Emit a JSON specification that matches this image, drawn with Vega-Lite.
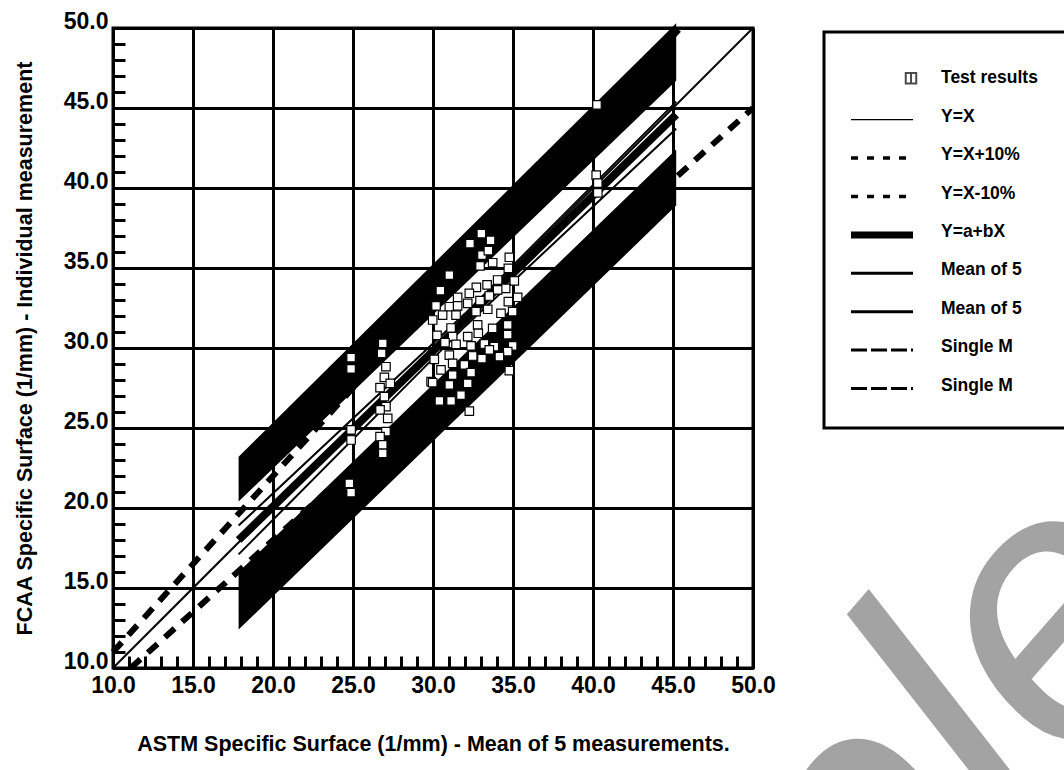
{
  "$schema": "https://vega.github.io/schema/vega-lite/v6.json",
  "background": "white",
  "autosize": {"type": "pad"},
  "padding": {"left": 12, "top": 8, "right": 0, "bottom": 0},
  "bounds": "flush",
  "spacing": 71,
  "config": {
    "view": {"stroke": null},
    "font": "Liberation Sans"
  },
  "datasets": {
    "points": [
      {"x": 24.88, "y": 29.4}, {"x": 24.88, "y": 28.7}, {"x": 24.88, "y": 24.88}, {"x": 24.88, "y": 24.25},
      {"x": 24.77, "y": 21.54}, {"x": 24.88, "y": 20.96},
      {"x": 26.86, "y": 30.29}, {"x": 26.79, "y": 29.67}, {"x": 27.06, "y": 28.83}, {"x": 26.96, "y": 28.17},
      {"x": 27.33, "y": 27.79}, {"x": 26.69, "y": 27.52}, {"x": 26.96, "y": 26.96}, {"x": 27.06, "y": 26.33},
      {"x": 26.69, "y": 26.13}, {"x": 27.17, "y": 25.6}, {"x": 27.06, "y": 24.77}, {"x": 26.69, "y": 24.46},
      {"x": 26.86, "y": 23.94}, {"x": 26.86, "y": 23.42},
      {"x": 29.88, "y": 27.9},
      {"x": 33.02, "y": 37.15}, {"x": 33.6, "y": 36.73}, {"x": 32.31, "y": 36.52}, {"x": 33.06, "y": 35.81},
      {"x": 33.46, "y": 36.08}, {"x": 33.73, "y": 35.33}, {"x": 34.77, "y": 35.67}, {"x": 32.94, "y": 35.13},
      {"x": 31.02, "y": 34.56}, {"x": 34.71, "y": 34.98}, {"x": 34.04, "y": 34.25}, {"x": 35.08, "y": 34.19},
      {"x": 32.71, "y": 33.79}, {"x": 33.38, "y": 33.94}, {"x": 34.54, "y": 33.73}, {"x": 30.46, "y": 33.58},
      {"x": 34.04, "y": 33.63}, {"x": 32.27, "y": 33.42}, {"x": 33.52, "y": 33.25}, {"x": 35.29, "y": 33.17},
      {"x": 31.54, "y": 33.17}, {"x": 30.19, "y": 32.63}, {"x": 31.02, "y": 32.58}, {"x": 31.54, "y": 32.63},
      {"x": 32.17, "y": 32.79}, {"x": 32.94, "y": 32.96}, {"x": 34.71, "y": 32.9}, {"x": 30.6, "y": 32.06},
      {"x": 31.44, "y": 32.06}, {"x": 32.69, "y": 32.27}, {"x": 33.42, "y": 32.42}, {"x": 34.25, "y": 32.17},
      {"x": 34.98, "y": 32.27}, {"x": 29.98, "y": 31.75}, {"x": 31.13, "y": 31.25}, {"x": 32.79, "y": 31.44},
      {"x": 33.73, "y": 31.23}, {"x": 34.67, "y": 31.44}, {"x": 30.25, "y": 30.79}, {"x": 31.23, "y": 30.71},
      {"x": 32.17, "y": 30.71}, {"x": 32.83, "y": 30.92}, {"x": 34.67, "y": 30.83}, {"x": 30.75, "y": 30.33},
      {"x": 31.44, "y": 30.23}, {"x": 32.38, "y": 30.13}, {"x": 33.21, "y": 30.25}, {"x": 33.83, "y": 30.08},
      {"x": 34.98, "y": 30.13}, {"x": 30.08, "y": 29.29}, {"x": 31.02, "y": 29.56}, {"x": 32.48, "y": 29.5},
      {"x": 33.52, "y": 29.88}, {"x": 34.67, "y": 29.77}, {"x": 34.15, "y": 29.46}, {"x": 33.06, "y": 29.33},
      {"x": 30.5, "y": 28.63}, {"x": 31.23, "y": 29.04}, {"x": 31.96, "y": 28.94}, {"x": 32.38, "y": 28.46},
      {"x": 34.77, "y": 28.58}, {"x": 29.98, "y": 27.83}, {"x": 31.23, "y": 28.31}, {"x": 32.17, "y": 27.79},
      {"x": 31.02, "y": 27.69}, {"x": 31.75, "y": 27.06}, {"x": 30.4, "y": 26.69}, {"x": 31.13, "y": 26.69},
      {"x": 32.27, "y": 26.06},
      {"x": 40.25, "y": 45.19}, {"x": 40.2, "y": 40.8}, {"x": 40.3, "y": 40.3}, {"x": 40.3, "y": 39.7}
    ],
    "tolerance": [
      {"series": "Y=X+10%", "x": 10, "y": 11}, {"series": "Y=X+10%", "x": 45.45, "y": 50},
      {"series": "Y=X-10%", "x": 11.11, "y": 10}, {"series": "Y=X-10%", "x": 50, "y": 45}
    ],
    "identity": [{"x": 10, "y": 10}, {"x": 50, "y": 50}],
    "singleM": [
      {"band": "upper", "x": 17.85, "y": 20.4, "y2": 23.2}, {"band": "upper", "x": 45.2, "y": 46.7, "y2": 50.3},
      {"band": "lower", "x": 17.85, "y": 12.4, "y2": 16.0}, {"band": "lower", "x": 45.2, "y": 38.9, "y2": 42.4}
    ],
    "fit": [{"x": 17.85, "y": 18.0}, {"x": 45.2, "y": 44.58}],
    "meanOf5": [
      {"bound": "upper", "x": 17.85, "y": 18.9}, {"bound": "upper", "x": 32, "y": 32.15}, {"bound": "upper", "x": 45.2, "y": 45.4},
      {"bound": "lower", "x": 17.85, "y": 17.1}, {"bound": "lower", "x": 32, "y": 31.35}, {"bound": "lower", "x": 45.2, "y": 43.7}
    ],
    "legend": [
      {"row": 1, "label": "Test results", "kind": "point"},
      {"row": 2, "label": "Y=X", "kind": "thin"},
      {"row": 3, "label": "Y=X+10%", "kind": "dash"},
      {"row": 4, "label": "Y=X-10%", "kind": "dash"},
      {"row": 5, "label": "Y=a+bX", "kind": "fit"},
      {"row": 6, "label": "Mean of 5", "kind": "mean"},
      {"row": 7, "label": "Mean of 5", "kind": "mean"},
      {"row": 8, "label": "Single M", "kind": "single"},
      {"row": 9, "label": "Single M", "kind": "single"}
    ]
  },
  "hconcat": [
    {
      "width": 640,
      "height": 640,
      "view": {"stroke": "black", "strokeWidth": 3},
      "encoding": {
        "x": {
          "field": "x", "type": "quantitative",
          "scale": {"domain": [10, 50], "nice": false, "zero": false},
          "axis": {
            "title": "ASTM Specific Surface (1/mm) - Mean of 5 measurements.",
            "values": [10,11,12,13,14,15,16,17,18,19,20,21,22,23,24,25,26,27,28,29,30,31,32,33,34,35,36,37,38,39,40,41,42,43,44,45,46,47,48,49,50],
            "format": ".1f",
            "labelExpr": "datum.value % 5 === 0 ? datum.label : ''",
            "labelFlush": false, "labelOverlap": false,
            "labelFontSize": 23, "labelFontWeight": "bold", "labelColor": "black",
            "labelPadding": 18,
            "tickSize": -12, "tickWidth": 3, "tickColor": "black",
            "domain": false,
            "grid": true, "gridColor": "black", "gridWidth": 3,
            "gridOpacity": {"condition": {"test": "datum.value % 5 === 0", "value": 1}, "value": 0},
            "titleFontSize": 21.5, "titleFontWeight": "bold", "titleColor": "black", "titlePadding": 36
          }
        },
        "y": {
          "field": "y", "type": "quantitative",
          "scale": {"domain": [10, 50], "nice": false, "zero": false},
          "axis": {
            "title": "FCAA Specific Surface (1/mm) - Individual measurement",
            "values": [10,11,12,13,14,15,16,17,18,19,20,21,22,23,24,25,26,27,28,29,30,31,32,33,34,35,36,37,38,39,40,41,42,43,44,45,46,47,48,49,50],
            "format": ".1f",
            "labelExpr": "datum.value % 5 === 0 ? datum.label : ''",
            "labelFlush": false, "labelOverlap": false,
            "labelFontSize": 23, "labelFontWeight": "bold", "labelColor": "black",
            "labelBaseline": "alphabetic", "labelAlign": "right",
            "labelPadding": 17,
            "tickSize": -12, "tickWidth": 3, "tickColor": "black",
            "domain": false,
            "grid": true, "gridColor": "black", "gridWidth": 3,
            "gridOpacity": {"condition": {"test": "datum.value % 5 === 0", "value": 1}, "value": 0},
            "titleFontSize": 21.5, "titleFontWeight": "bold", "titleColor": "black", "titlePadding": 27
          }
        }
      },
      "layer": [
        {
          "data": {"name": "tolerance"},
          "mark": {"type": "line", "color": "black", "strokeWidth": 6, "strokeDash": [13, 10], "strokeCap": "butt"},
          "encoding": {"detail": {"field": "series"}}
        },
        {
          "data": {"name": "singleM"},
          "mark": {"type": "area", "color": "black", "opacity": 1},
          "encoding": {"y2": {"field": "y2"}, "detail": {"field": "band"}}
        },
        {
          "data": {"name": "identity"},
          "mark": {"type": "line", "color": "black", "strokeWidth": 2}
        },
        {
          "data": {"name": "meanOf5"},
          "mark": {"type": "line", "color": "black", "strokeWidth": 2},
          "encoding": {"detail": {"field": "bound"}}
        },
        {
          "data": {"name": "fit"},
          "mark": {"type": "line", "color": "black", "strokeWidth": 8}
        },
        {
          "data": {"name": "points"},
          "mark": {"type": "point", "shape": "square", "filled": true, "fill": "white", "stroke": "black", "strokeWidth": 1.2, "size": 72, "opacity": 1}
        }
      ]
    },
    {
      "width": 280,
      "height": 420,
      "view": {"stroke": null},
      "layer": [
        {
          "data": {"values": [{}]},
          "mark": {"type": "rect", "filled": false, "stroke": "black", "strokeWidth": 3},
          "encoding": {
            "x": {"datum": 0, "type": "quantitative", "scale": {"domain": [0, 280], "nice": false, "zero": false}, "axis": null},
            "x2": {"datum": 300},
            "y": {"datum": -0.206, "type": "quantitative", "scale": {"domain": [-0.31, 10.6275], "reverse": true, "nice": false, "zero": false}, "axis": null},
            "y2": {"datum": 10.107}
          }
        },
        {
          "data": {"name": "legend"},
          "transform": [{"filter": "datum.kind === 'thin'"}],
          "mark": {"type": "rule", "color": "black", "strokeWidth": 1.2, "yOffset": 3},
          "encoding": {
            "x": {"datum": 27, "type": "quantitative", "axis": null}, "x2": {"datum": 89},
            "y": {"field": "row", "type": "quantitative", "axis": null}
          }
        },
        {
          "data": {"name": "legend"},
          "transform": [{"filter": "datum.kind === 'dash'"}],
          "mark": {"type": "rule", "color": "black", "strokeWidth": 3.5, "strokeDash": [7, 9], "strokeCap": "butt", "yOffset": 3},
          "encoding": {
            "x": {"datum": 27, "type": "quantitative", "axis": null}, "x2": {"datum": 89},
            "y": {"field": "row", "type": "quantitative", "axis": null}
          }
        },
        {
          "data": {"name": "legend"},
          "transform": [{"filter": "datum.kind === 'fit'"}],
          "mark": {"type": "rule", "color": "black", "strokeWidth": 7, "strokeCap": "butt", "yOffset": 3},
          "encoding": {
            "x": {"datum": 27, "type": "quantitative", "axis": null}, "x2": {"datum": 89},
            "y": {"field": "row", "type": "quantitative", "axis": null}
          }
        },
        {
          "data": {"name": "legend"},
          "transform": [{"filter": "datum.kind === 'mean'"}],
          "mark": {"type": "rule", "color": "black", "strokeWidth": 3, "strokeCap": "butt", "yOffset": 3},
          "encoding": {
            "x": {"datum": 27, "type": "quantitative", "axis": null}, "x2": {"datum": 89},
            "y": {"field": "row", "type": "quantitative", "axis": null}
          }
        },
        {
          "data": {"name": "legend"},
          "transform": [{"filter": "datum.kind === 'single'"}],
          "mark": {"type": "rule", "color": "black", "strokeWidth": 3, "strokeDash": [16, 4], "strokeCap": "butt", "yOffset": 3},
          "encoding": {
            "x": {"datum": 27, "type": "quantitative", "axis": null}, "x2": {"datum": 89},
            "y": {"field": "row", "type": "quantitative", "axis": null}
          }
        },
        {
          "data": {"name": "legend"},
          "transform": [{"filter": "datum.kind === 'point'"}],
          "mark": {"type": "point", "shape": "square", "filled": true, "fill": "white", "stroke": "black", "strokeWidth": 2, "size": 110},
          "encoding": {
            "x": {"datum": 87, "type": "quantitative", "axis": null},
            "y": {"field": "row", "type": "quantitative", "axis": null}
          }
        },
        {
          "data": {"name": "legend"},
          "transform": [{"filter": "datum.kind === 'point'"}],
          "mark": {"type": "tick", "orient": "vertical", "color": "black", "size": 9, "thickness": 2},
          "encoding": {
            "x": {"datum": 87, "type": "quantitative", "axis": null},
            "y": {"field": "row", "type": "quantitative", "axis": null}
          }
        },
        {
          "data": {"name": "legend"},
          "mark": {"type": "text", "align": "left", "baseline": "middle", "fontSize": 17.5, "fontWeight": "bold", "color": "black"},
          "encoding": {
            "x": {"datum": 117, "type": "quantitative", "axis": null},
            "y": {"field": "row", "type": "quantitative", "axis": null},
            "text": {"field": "label"}
          }
        },
        {
          "data": {"values": [{"word": "Sample"}]},
          "mark": {"type": "text", "font": "Liberation Sans", "fontStyle": "italic", "fontSize": 380, "angle": 311, "align": "center", "baseline": "alphabetic", "fill": "#000000", "fillOpacity": 0.36},
          "encoding": {
            "text": {"field": "word"},
            "x": {"datum": -37, "type": "quantitative", "axis": null},
            "y": {"datum": 27.68, "type": "quantitative", "axis": null}
          }
        }
      ]
    }
  ]
}
